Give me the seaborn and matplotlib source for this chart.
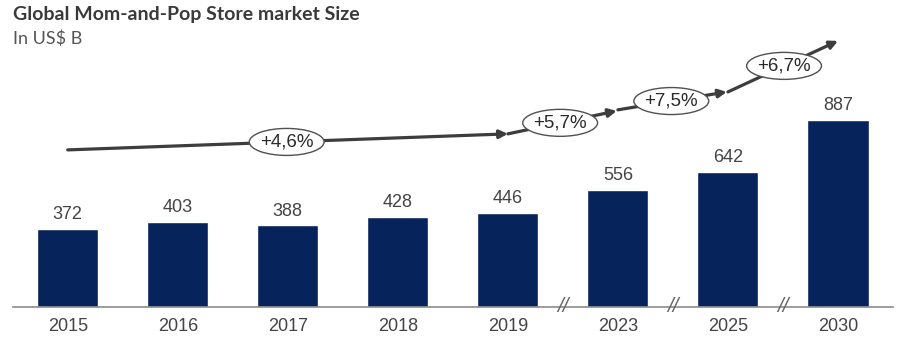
import matplotlib
matplotlib.use("Agg")
import matplotlib.pyplot as plt
from matplotlib.patches import Ellipse
import seaborn as sns
import pandas as pd

years = ["2015", "2016", "2017", "2018", "2019", "2023", "2025", "2030"]
values = [372, 403, 388, 428, 446, 556, 642, 887]
cagr_labels = ["+4,6%", "+5,7%", "+7,5%", "+6,7%"]

# arrow path (x index, y in chart units) for each CAGR segment
seg_starts = [(0.0, 745), (4.0, 821), (5.0, 935), (6.0, 1020)]
seg_ends = [(4.0, 821), (4.99, 930), (5.99, 1020), (7.0, 1262)]
label_frac = [0.4975, 0.48, 0.49, 0.51]
break_positions = [4.5, 5.5, 6.5]

sns.set_theme(style="white")
plt.rcParams["font.family"] = ["Liberation Sans", "DejaVu Sans"]

df = pd.DataFrame({"year": years, "value": values})

fig = plt.figure(figsize=(9.03, 3.5), dpi=100)
ax = fig.add_axes([12.7 / 903, 43 / 350, 880.3 / 903, 287 / 350])

sns.barplot(data=df, x="year", y="value", color="#07235c", saturation=1,
            width=0.555, ax=ax)
ax.set_xlim(-0.5, 7.5)
ax.set_ylim(0, 1361)
ax.bar_label(ax.containers[0], padding=4, fontsize=13, color="#444444")

for s in ["top", "left", "right"]:
    ax.spines[s].set_visible(False)
ax.spines["bottom"].set_color("#8c8c8c")
ax.spines["bottom"].set_linewidth(1.2)
ax.set_yticks([])
ax.set_xlabel("")
ax.set_ylabel("")
ax.tick_params(axis="x", length=0, pad=8, labelsize=13, labelcolor="#444444")

line_color = "#3d3d3d"
for i, (st, en) in enumerate(zip(seg_starts, seg_ends)):
    ax.annotate("", xy=en, xytext=st,
                arrowprops=dict(arrowstyle="-|>", color=line_color, lw=2.3,
                                mutation_scale=12, shrinkA=0, shrinkB=0),
                annotation_clip=False)
    f = label_frac[i]
    cx = st[0] + (en[0] - st[0]) * f
    cy = st[1] + (en[1] - st[1]) * f
    ax.add_patch(Ellipse((cx, cy), 0.68, 128, facecolor="white",
                         edgecolor="#505050", lw=1.0, zorder=5))
    ax.text(cx, cy, cagr_labels[i], ha="center", va="center", fontsize=13.5,
            color="#2a2a2a", zorder=6)

for bx in break_positions:
    ax.text(bx, 0, "//", ha="center", va="center", fontsize=15,
            fontstyle="italic", color="#666666", clip_on=False, zorder=6)

fig.text(13 / 903, 1 - 6 / 350, "Global Mom-and-Pop Store market Size",
         ha="left", va="top", fontsize=14, fontweight="bold", color="#3a3a3a",
         family=["Lato", "DejaVu Sans"])
fig.text(13 / 903, 1 - 31 / 350, "In US$ B", ha="left", va="top",
         fontsize=13, color="#555555", family=["Lato", "DejaVu Sans"])

fig.savefig("out.png", dpi=100)
